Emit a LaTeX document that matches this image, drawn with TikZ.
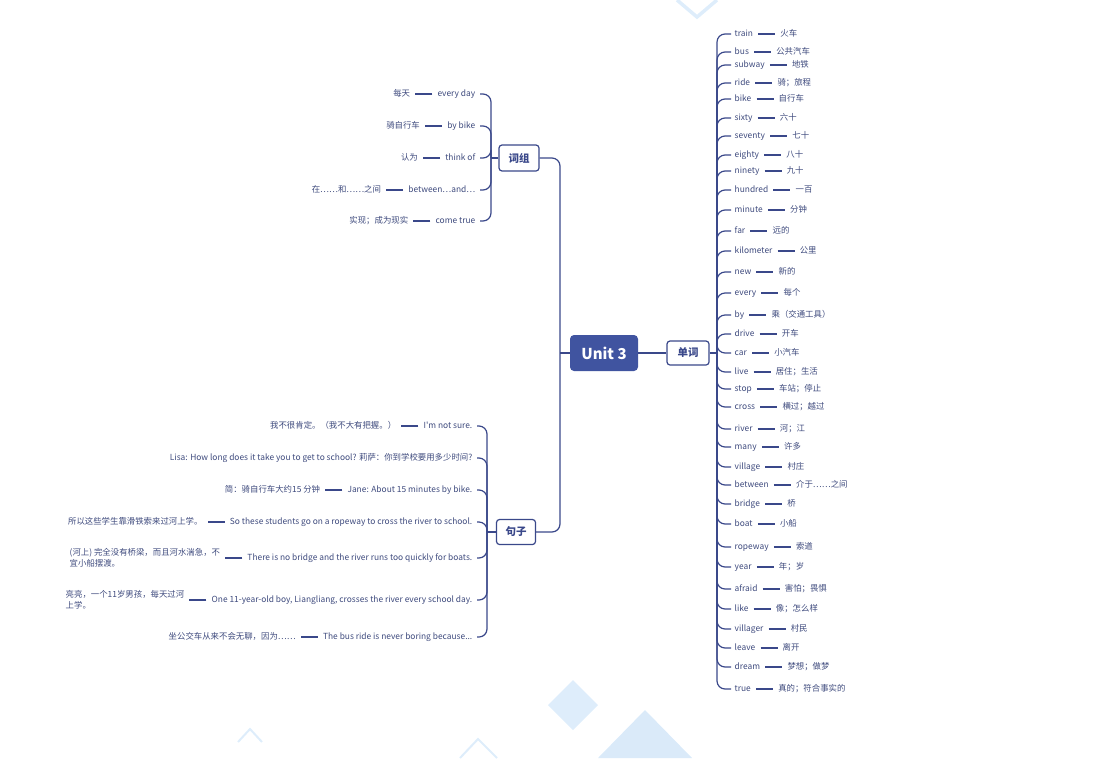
\documentclass[tikz,border=0pt]{standalone}
\usepackage{fontspec}
\setmainfont{Noto Sans CJK SC}[Ligatures=TeXOff]
\definecolor{lc}{RGB}{58,72,138}
\definecolor{tc}{RGB}{62,74,125}
\definecolor{mainfill}{RGB}{64,84,160}
\definecolor{bgA}{RGB}{222,237,251}
\definecolor{bgB}{RGB}{218,234,249}
\begin{document}
\begin{tikzpicture}[x=1pt,y=-1pt,
  ln/.style={draw=lc, line width=1.2pt},
  br/.style={draw=lc, line width=1.2pt, rounded corners=8pt},
  leafbase/.style={font=\fontsize{8.4}{11}\selectfont, text=tc, inner sep=1.5pt},
  leaf/.style={leafbase, text height=6.6pt, text depth=1.6pt},
  topic/.style={draw=lc, line width=1.2pt, fill=white, rounded corners=3pt, text=lc,
    font=\fontsize{10.5}{12}\selectfont\bfseries, inner sep=0pt},
  central/.style={fill=mainfill, rounded corners=4pt, text=white,
    font=\fontsize{15}{17}\selectfont\bfseries, minimum width=68pt, minimum height=36pt, inner sep=0pt}]
\useasboundingbox (0,0) rectangle (1107,758);
% background decorations
\fill[bgA] (548,705) -- (573,680) -- (598,705) -- (573,730) -- cycle;
\fill[bgB] (598,758) -- (645,710) -- (692,758) -- cycle;
\draw[bgA, line width=3.5pt] (677,0) -- (697,17) -- (717,0);
\draw[bgA, line width=2pt] (238,742) -- (250,729) -- (262,742);
\draw[bgA, line width=2pt] (460,758) -- (478,739) -- (497,758);

% main nodes
\node[central] (unit) at (604,353) {Unit 3};
\node[topic, minimum width=42pt, minimum height=24pt] (dan) at (688,353) {单词};
\node[topic, minimum width=40pt, minimum height=26pt] (ci) at (519,158) {词组};
\node[topic, minimum width=39pt, minimum height=25pt] (ju) at (516,532) {句子};
\coordinate (mj) at (560,353);
\coordinate (wj) at (717,353);
\coordinate (cj) at (491,158);
\coordinate (sj) at (487,532);

\draw[ln] (unit.east) -- (dan.west);
\draw[ln] (unit.west) -- (mj);
\draw[br] (ci.east) -| (mj) |- (ju.east);
\draw[ln] (dan.east) -- (wj);
\draw[ln] (ci.west) -- (cj);
\draw[ln] (ju.west) -- (sj);

% words
\foreach \i/\y/\en/\zh in {
 1/34/train/火车, 2/52/bus/公共汽车, 3/65/subway/地铁, 4/83/ride/骑；旅程,
 5/99/bike/自行车, 6/118/sixty/六十, 7/136/seventy/七十, 8/155/eighty/八十,
 9/171/ninety/九十, 10/190/hundred/一百, 11/210/minute/分钟, 12/231/far/远的,
 13/251/kilometer/公里, 14/272/new/新的, 15/293/every/每个, 16/315/by/乘（交通工具）,
 17/334/drive/开车, 18/353/car/小汽车, 19/372/live/居住；生活, 20/389/stop/车站；停止,
 21/407/cross/横过；越过, 22/429/river/河；江, 23/447/many/许多, 24/467/village/村庄,
 25/485/between/介于……之间, 26/504/bridge/桥, 27/524/boat/小船, 28/547/ropeway/索道,
 29/567/year/年；岁, 30/589/afraid/害怕；畏惧, 31/609/like/像；怎么样, 32/629/villager/村民,
 33/648/leave/离开, 34/667/dream/梦想；做梦, 35/689/true/真的；符合事实的}{
  \node[leaf, anchor=west] (we\i) at (733,\y) {\en};
  \node[leaf, anchor=west] (wz\i) at ([xshift=24pt]we\i.east) {\zh};
  \draw[ln] ([xshift=3.5pt]we\i.east) -- ([xshift=-3.5pt]wz\i.west);
  \draw[br] (wj) |- ([xshift=-2pt]we\i.west);
}

% phrases
\foreach \i/\y/\en/\zh in {
 1/94/every day/每天, 2/126/by bike/骑自行车, 3/158/think of/认为,
 4/190/between…and…/在……和……之间, 5/221/come true/实现；成为现实}{
  \node[leaf, anchor=east] (pe\i) at (477,\y) {\en};
  \node[leaf, anchor=east] (pz\i) at ([xshift=-24pt]pe\i.west) {\zh};
  \draw[ln] ([xshift=-3.5pt]pe\i.west) -- ([xshift=3.5pt]pz\i.east);
  \draw[br] (cj) |- ([xshift=3pt]pe\i.east);
}

% sentences
\node[leaf, anchor=east] (se1) at (474,426) {I'm not sure.};
\node[leaf, anchor=east] (sz1) at ([xshift=-24pt]se1.west) {我不很肯定。（我不大有把握。）};
\node[leaf, anchor=east] (se2) at (474,458) {Lisa: How long does it take you to get to school? 莉萨：你到学校要用多少时间?};
\node[leaf, anchor=east] (se3) at (474,490) {Jane: About 15 minutes by bike.};
\node[leaf, anchor=east] (sz3) at ([xshift=-24pt]se3.west) {简：骑自行车大约15 分钟};
\node[leaf, anchor=east] (se4) at (474,522) {So these students go on a ropeway to cross the river to school.};
\node[leaf, anchor=east] (sz4) at ([xshift=-24pt]se4.west) {所以这些学生靠滑铁索来过河上学。};
\node[leaf, anchor=east] (se5) at (474,558) {There is no bridge and the river runs too quickly for boats.};
\node[leafbase, anchor=east, align=left] (sz5) at ([xshift=-24pt]se5.west) {(河上) 完全没有桥梁，而且河水湍急，不\\宜小船摆渡。};
\node[leaf, anchor=east] (se6) at (474,600) {One 11-year-old boy, Liangliang, crosses the river every school day.};
\node[leafbase, anchor=east, align=left] (sz6) at ([xshift=-24pt]se6.west) {亮亮，一个11岁男孩，每天过河\\上学。};
\node[leaf, anchor=east] (se7) at (474,637) {The bus ride is never boring because...};
\node[leaf, anchor=east] (sz7) at ([xshift=-24pt]se7.west) {坐公交车从来不会无聊，因为……};
\foreach \i in {1,3,4,5,6,7}{
  \draw[ln] ([xshift=-3.5pt]se\i.west) -- ([xshift=3.5pt]sz\i.east);
}
\foreach \i in {1,...,7}{
  \draw[br] (sj) |- ([xshift=3pt]se\i.east);
}
\end{tikzpicture}
\end{document}
